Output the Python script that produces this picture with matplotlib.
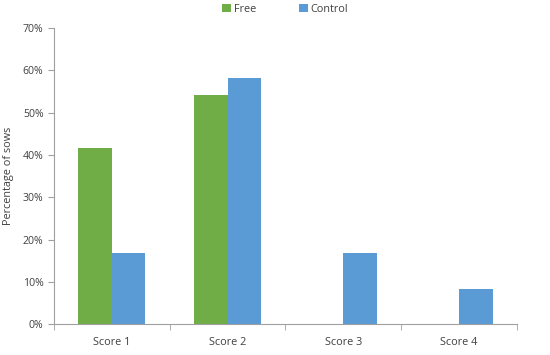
import matplotlib
matplotlib.use("Agg")
import matplotlib.pyplot as plt
import numpy as np
from matplotlib.ticker import FuncFormatter, FixedLocator

categories = ["Score 1", "Score 2", "Score 3", "Score 4"]
free = [41.7, 54.2, 0, 0]
control = [16.7, 58.3, 16.7, 8.3]
yticks = [0, 10, 20, 30, 40, 50, 60, 70]

plt.rcParams['font.family'] = ['Open Sans', 'DejaVu Sans']
fig = plt.figure(figsize=(5.5, 3.55), dpi=100)
ax = fig.add_axes([0.098, 0.087, 0.842, 0.834])

x = np.arange(len(categories))
w = 0.29
ax.bar(x - w/2, free, w, color="#70AD47", label="Free")
ax.bar(x + w/2, control, w, color="#5B9BD5", label="Control")

ax.set_xlim(-0.5, len(categories) - 0.5)
ax.set_ylim(0, 70)
ax.set_yticks(yticks)
ax.yaxis.set_major_formatter(FuncFormatter(lambda v, p: f"{int(v)}%"))
ax.set_xticks(x)
ax.set_xticklabels(categories)
ax.xaxis.set_minor_locator(FixedLocator(np.arange(-0.5, len(categories), 1.0)))
ax.tick_params(axis='x', which='major', length=0, labelsize=7.8, colors="#404040", pad=9)
ax.tick_params(axis='x', which='minor', length=4, color="#A0A0A0")
ax.tick_params(axis='y', length=4, color="#A0A0A0", labelsize=7.6, labelcolor="#404040")
for s in ["top", "right"]:
    ax.spines[s].set_visible(False)
for s in ["left", "bottom"]:
    ax.spines[s].set_color("#A0A0A0")
    ax.spines[s].set_linewidth(0.8)

ax.set_ylabel("Percentage of sows", fontsize=7.8, color="#404040", labelpad=6)

ax.legend(loc="upper center", bbox_to_anchor=(0.5, 1.115), ncol=2, frameon=False,
          fontsize=7.8, handlelength=0.8, handleheight=0.8, columnspacing=3.9,
          handletextpad=0.3, labelcolor="#404040")

fig.savefig("out.png", dpi=100)
